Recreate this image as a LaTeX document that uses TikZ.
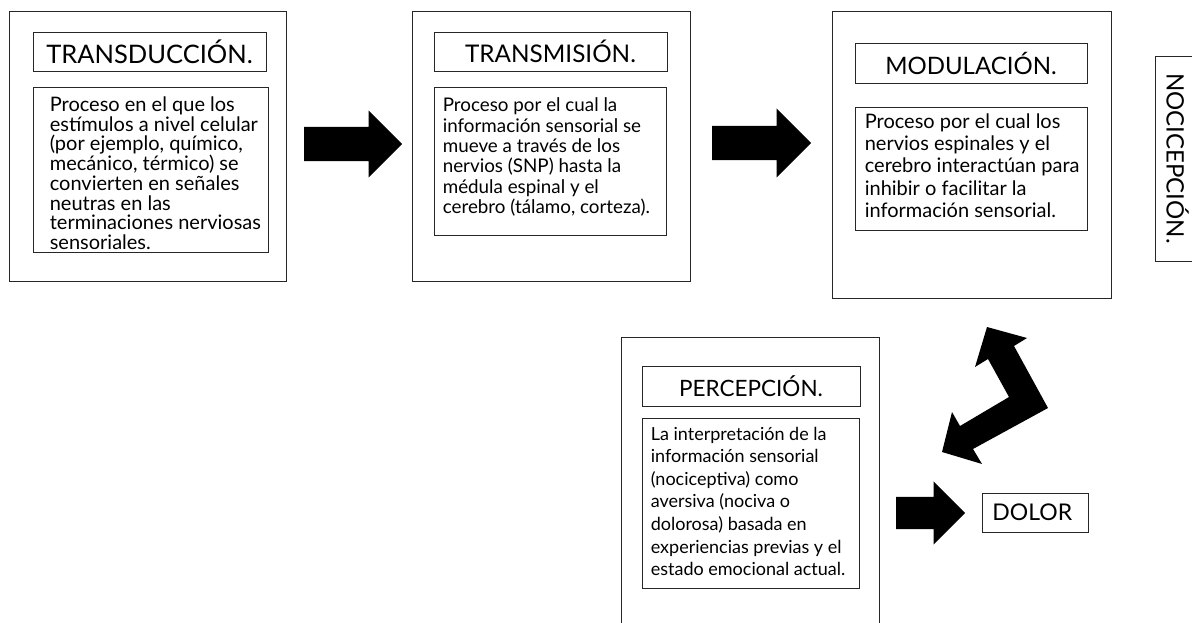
\documentclass[tikz,border=0pt]{standalone}
\usepackage{fontspec}
\setmainfont{Lato}
\usepackage{tikz}
\usetikzlibrary{positioning}
\usetikzlibrary{shapes.arrows}
\tikzset{
	stagebox/.style={draw=black!85, line width=0.8pt, inner sep=0pt},
	titlebox/.style={stagebox, minimum height=39pt},
	bodytext/.style={inner sep=0pt, align=left, anchor=north west},
	bigarrow/.style={single arrow, fill=black, draw=none, inner xsep=0pt, anchor=tail}
}

\begin{document}
\begin{tikzpicture}[x=1pt, y=-1pt, node distance = 10pt]
  \clip (0,0) rectangle (1192,623);

  % etapas
  \node[stagebox, minimum width=277pt, minimum height=270pt] (transduccion) at (147.5,146) {};
  \node[stagebox, minimum width=278pt, minimum height=270pt] (transmision) at (551,146) {};
  \node[stagebox, minimum width=279pt, minimum height=287pt] (modulacion) at (971.5,154.5) {};
  \node[stagebox, minimum width=258pt, minimum height=320pt] (percepcion) at (750,497) {};

  % titulos
  \node[titlebox, minimum width=233pt, font=\fontsize{25.5}{28}\selectfont] (tdtitle) at (149.5,51.5) {TRANSDUCCIÓN.};
  \node[titlebox, minimum width=233pt, font=\fontsize{24.3}{28}\selectfont] (tmtitle) at (550.5,51.5) {TRANSMISIÓN.};
  \node[titlebox, minimum width=232pt, minimum height=40pt, font=\fontsize{24}{28}\selectfont] (mdtitle) at (971,63) {MODULACIÓN.};
  \node[titlebox, minimum width=218pt, minimum height=40pt, font=\fontsize{22.5}{26}\selectfont] (pctitle) at (751,386) {PERCEPCIÓN.};

  % cuadros de texto
  \node[stagebox, minimum width=235pt, minimum height=165pt] (tdbody) at (150.5,169.5) {};
  \node[stagebox, minimum width=232pt, minimum height=148pt] (tmbody) at (550,161) {};
  \node[stagebox, minimum width=232pt, minimum height=123pt] (mdbody) at (971,168.5) {};
  \node[stagebox, minimum width=217pt, minimum height=170pt] (pcbody) at (750.5,503) {};

  \node[bodytext, below right=10pt and 17pt of tdbody.north west, font=\fontsize{20}{19.7}\selectfont] (tdtext)
    {Proceso en el que los\\estímulos a nivel celular\\(por ejemplo, químico,\\mecánico, térmico) se\\convierten en señales\\neutras en las\\terminaciones nerviosas\\sensoriales.};
  \node[bodytext, below right=11pt and 9pt of tmbody.north west, font=\fontsize{18.8}{20.4}\selectfont] (tmtext)
    {Proceso por el cual la\\información sensorial se\\mueve a través de los\\nervios (SNP) hasta la\\médula espinal y el\\cerebro (tálamo, corteza).};
  \node[bodytext, below right=7pt and 10pt of mdbody.north west, font=\fontsize{20}{22.2}\selectfont] (mdtext)
    {Proceso por el cual los\\nervios espinales y el\\cerebro interactúan para\\inhibir o facilitar la\\información sensorial.};
  \node[bodytext, below right=9pt and 9pt of pcbody.north west, font=\fontsize{18}{22.6}\selectfont] (pctext)
    {La interpretación de la\\información sensorial\\(nociceptiva) como\\aversiva (nociva o\\dolorosa) basada en\\experiencias previas y el\\estado emocional actual.};

  \node[stagebox, inner xsep=10pt, text width=86pt, align=left, minimum height=39pt, anchor=west,
    font=\fontsize{23}{26}\selectfont] (dolor) at (982,512.5) {DOLOR};
  \node[stagebox, rotate=-90, inner ysep=11pt, minimum width=205pt, anchor=south,
    font=\fontsize{24}{28}\selectfont] (nocicepcion) at (1155,158.5) {NOCICEPCIÓN.};

  % flechas
  \node[bigarrow, inner ysep=17pt, minimum height=98pt, single arrow head extend=16.5pt] (arrA) at (304,144) {};
  \node[bigarrow, inner ysep=17pt, minimum height=99pt, single arrow head extend=17.5pt] (arrB) at (712,143) {};
  \node[bigarrow, inner ysep=16pt, minimum height=69pt, single arrow head extend=15.5pt] (arrC) at (896,513) {};
  \fill (987,327) -- (1027,338) -- (1014,346) -- (1048,408) -- (973,449) -- (982,464)
    -- (942,452) -- (952,412) -- (960,426) -- (1009,397) -- (988,359) -- (975,367) -- cycle;

\end{tikzpicture}
\end{document}
